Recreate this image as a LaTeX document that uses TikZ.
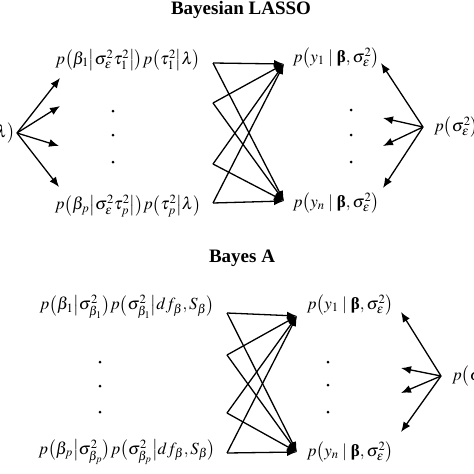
\documentclass[tikz,border=0pt]{standalone}
\usepackage{amsmath}
\usepackage{mathptmx}
\usepackage[no-math]{fontspec}
\setmainfont{Liberation Serif}
\usetikzlibrary{positioning,arrows.meta,calc}

\newcommand{\bvec}{\mbox{\bfseries β}}

\begin{document}
\begin{tikzpicture}[x=1pt,y=-1pt,
  font=\fontsize{17}{20}\selectfont,
  >={Latex[length=10pt,width=8pt]},
  link/.style={line width=1.3pt},
  title/.style={font=\fontsize{19}{22}\selectfont\bfseries},
  dotmark/.style={circle,fill,inner sep=0pt,minimum size=3pt},
  hub/.style={inner xsep=2pt},
  sighub/.style={inner xsep=11pt}]

  \useasboundingbox (0,0) rectangle (474,474);

  % Bayesian LASSO
  \node[title] (lasso) at (241,10) {Bayesian LASSO};

  \node[hub,anchor=east] (lambda) at (17,133) {$p\bigl(\lambda\bigr)$};
  \node[] (betaoneA) at (128,60) {$p\bigl(\beta_1\big|\sigma_\varepsilon^2\tau_1^2\big|\bigr)p\bigl(\tau_1^2\big|\lambda\bigr)$};
  \node[dotmark] (ldotA1) at (113,111) {};
  \node[dotmark] (ldotA2) at (113,135) {};
  \node[dotmark] (ldotA3) at (113,162) {};
  \node[] (betapA) at (128,206) {$p\bigl(\beta_p\big|\sigma_\varepsilon^2\tau_p^2\big|\bigr)p\bigl(\tau_p^2\big|\lambda\bigr)$};

  \node[] (yoneA) at (336,58) {$p\bigl(y_1\mid\bvec,\sigma_\varepsilon^2\bigr)$};
  \node[dotmark] (rdotA1) at (351,110) {};
  \node[dotmark] (rdotA2) at (351,135) {};
  \node[dotmark] (rdotA3) at (351,162) {};
  \node[] (ynA) at (336,203) {$p\bigl(y_n\mid\bvec,\sigma_\varepsilon^2\bigr)$};
  \node[sighub,anchor=west] (sigmaA) at (423,127) {$p\bigl(\sigma_\varepsilon^2\bigr)$};

  \coordinate (l1) at (60,78);
  \coordinate (l2) at (60,106);
  \coordinate (l3) at (59,146);
  \coordinate (l4) at (59,187);
  \coordinate (a1) at (213,63);
  \coordinate (a2) at (213,103);
  \coordinate (a3) at (213,164);
  \coordinate (a4) at (213,203);
  \coordinate (ta) at (284,64);
  \coordinate (tb) at (284,201);
  \coordinate (s1) at (381,63);
  \coordinate (s2) at (383,118);
  \coordinate (s3) at (383,146);
  \coordinate (s4) at (383,188);

  \path[link,->] (lambda.east) edge (l1);
  \path[link,->] (lambda.east) edge (l2);
  \path[link,->] (lambda.east) edge (l3);
  \path[link,->] (lambda.east) edge (l4);

  \path[link,->] (a1) edge (ta);
  \path[link,->] (a1) edge (tb);
  \path[link,->] (a2) edge (ta);
  \path[link,->] (a2) edge (tb);
  \path[link,->] (a3) edge (ta);
  \path[link,->] (a3) edge (tb);
  \path[link,->] (a4) edge (ta);
  \path[link,->] (a4) edge (tb);

  \path[link,->] (sigmaA.west) edge (s1);
  \path[link,->] (sigmaA.west) edge (s2);
  \path[link,->] (sigmaA.west) edge (s3);
  \path[link,->] (sigmaA.west) edge (s4);

  % Bayes A
  \node[title] (bayesa) at (242,258) {Bayes A};

  \node[] (betaoneB) at (127,307) {$p\bigl(\beta_1\big|\sigma_{\beta_1}^2\bigr)p\bigl(\sigma_{\beta_1}^2\big|df_\beta,S_\beta\bigr)$};
  \node[dotmark] (ldotB1) at (100,362) {};
  \node[dotmark] (ldotB2) at (100,386) {};
  \node[dotmark] (ldotB3) at (100,412) {};
  \node[] (betapB) at (127,452) {$p\bigl(\beta_p\big|\sigma_{\beta_p}^2\bigr)p\bigl(\sigma_{\beta_p}^2\big|df_\beta,S_\beta\bigr)$};

  \node[] (yoneB) at (350,305) {$p\bigl(y_1\mid\bvec,\sigma_\varepsilon^2\bigr)$};
  \node[dotmark] (rdotB1) at (328,362) {};
  \node[dotmark] (rdotB2) at (328,385) {};
  \node[dotmark] (rdotB3) at (328,412) {};
  \node[] (ynB) at (350,452) {$p\bigl(y_n\mid\bvec,\sigma_\varepsilon^2\bigr)$};
  \node[sighub,anchor=west] (sigmaB) at (441,376) {$p\bigl(\sigma_\varepsilon^2\bigr)$};

  \coordinate (b1) at (227,313);
  \coordinate (b2) at (227,355);
  \coordinate (b3) at (227,413);
  \coordinate (b4) at (227,453);
  \coordinate (tc) at (297,316);
  \coordinate (td) at (297,452);
  \coordinate (u1) at (401,312);
  \coordinate (u2) at (401,368);
  \coordinate (u3) at (401,393);
  \coordinate (u4) at (401,432);

  \path[link,->] (b1) edge (tc);
  \path[link,->] (b1) edge (td);
  \path[link,->] (b2) edge (tc);
  \path[link,->] (b2) edge (td);
  \path[link,->] (b3) edge (tc);
  \path[link,->] (b3) edge (td);
  \path[link,->] (b4) edge (tc);
  \path[link,->] (b4) edge (td);

  \path[link,->] (sigmaB.west) edge (u1);
  \path[link,->] (sigmaB.west) edge (u2);
  \path[link,->] (sigmaB.west) edge (u3);
  \path[link,->] (sigmaB.west) edge (u4);

\end{tikzpicture}
\end{document}
